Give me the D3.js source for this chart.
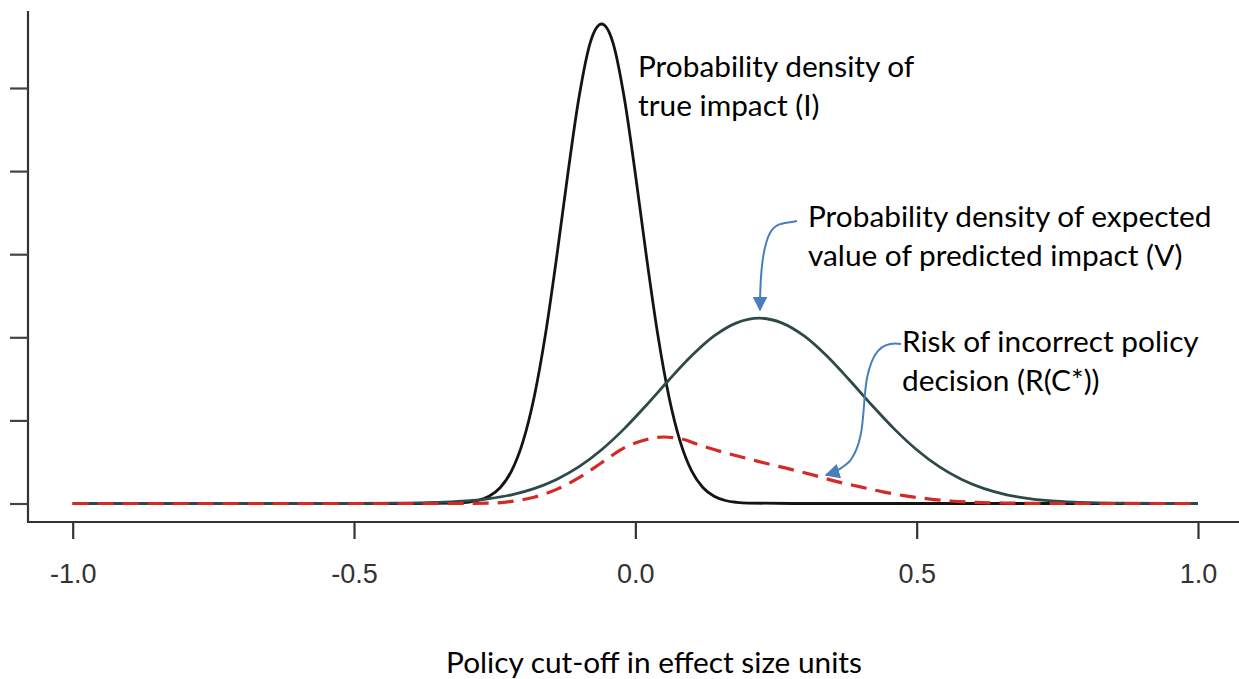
<!DOCTYPE html>
<html>
<head>
<meta charset="utf-8">
<script src="https://cdn.jsdelivr.net/npm/d3@7"></script>
<style>
  body { margin: 0; background: #fff; }
  .tick text { font-family: "Liberation Sans", Arial, sans-serif; font-size: 27px; fill: #333; }
  .note { font-family: Lato, "Open Sans", sans-serif; font-size: 29.8px; fill: #000; }
</style>
</head>
<body>
<div id="chart"></div>
<script>
// values (density units, y ticks 0..5 unlabelled)
var trueImpactX = [-1.0, -0.40, -0.32, -0.30, -0.28, -0.26, -0.24, -0.22, -0.20, -0.18, -0.16, -0.14, -0.12, -0.10, -0.08, -0.06,
  -0.04, -0.02, 0.00, 0.02, 0.04, 0.06, 0.08, 0.10, 0.12, 0.14, 0.16, 0.18, 0.20, 0.28, 1.0];
var trueImpactY = [0, 0, 0.005, 0.014, 0.036, 0.087, 0.193, 0.393, 0.739, 1.276, 2.026, 2.957, 3.967, 4.894, 5.55, 5.77,
  5.55, 4.894, 3.967, 2.957, 2.026, 1.276, 0.739, 0.393, 0.193, 0.087, 0.036, 0.014, 0.005, 0, 0];

var expectedX = [-1.0, -0.50, -0.42, -0.38, -0.34, -0.30, -0.26, -0.22, -0.18, -0.14, -0.10, -0.06, -0.02, 0.02, 0.06, 0.10, 0.14, 0.18,
  0.22, 0.26, 0.30, 0.34, 0.38, 0.42, 0.46, 0.50, 0.54, 0.58, 0.62, 0.66, 0.70, 0.74, 0.78, 0.82, 0.86, 0.94, 1.0];
var expectedY = [0, 0, 0.0035, 0.0076, 0.016, 0.031, 0.059, 0.105, 0.179, 0.289, 0.443, 0.647, 0.898, 1.186, 1.489, 1.777, 2.016, 2.174,
  2.23, 2.174, 2.016, 1.777, 1.489, 1.186, 0.898, 0.647, 0.443, 0.289, 0.179, 0.105, 0.059, 0.031, 0.016, 0.0076, 0.0035, 0, 0];

var riskX = [-1.0, -0.34, -0.30, -0.26, -0.22, -0.18, -0.14, -0.10, -0.06, -0.02, 0.02, 0.05, 0.08, 0.12, 0.16, 0.20, 0.24, 0.28,
  0.32, 0.36, 0.40, 0.44, 0.48, 0.52, 0.56, 0.60, 0.66, 0.72, 0.80, 1.0];
var riskY = [0, 0, 0.001, 0.004, 0.025, 0.075, 0.17, 0.31, 0.49, 0.67, 0.77, 0.80, 0.78, 0.69, 0.61, 0.54, 0.47, 0.405,
  0.335, 0.26, 0.20, 0.14, 0.092, 0.056, 0.03, 0.015, 0.005, 0.001, 0, 0];

var xTicks = [-1.0, -0.5, 0.0, 0.5, 1.0];
var yTicks = [0, 1, 2, 3, 4, 5];

var svgWidth = 1239;
var svgHeight = 679;

var svg = d3.select("#chart")
  .append("svg")
  .attr("width", svgWidth)
  .attr("height", svgHeight)
  .style("background", "#fff");

var x = d3.scaleLinear().domain([-1, 1]).range([72.7, 1198]);
var y = d3.scaleLinear().domain([0, 5]).range([503.5, 88]);

// L shaped frame
svg.append("path")
  .attr("d", "M28,11 L28,522 L1239,522")
  .attr("fill", "none")
  .attr("stroke", "#333")
  .attr("stroke-width", 2.2);

// plain hyphen for negatives, like the original
var fmt = d => d.toFixed(1);

var xAxis = svg.append("g")
  .attr("transform", "translate(0,522)")
  .call(d3.axisBottom(x).tickValues(xTicks).tickSize(17).tickPadding(25).tickFormat(fmt));
xAxis.select(".domain").remove();
xAxis.selectAll(".tick line").attr("stroke", "#333").attr("stroke-width", 2.2);

var yAxis = svg.append("g")
  .attr("transform", "translate(28,0)")
  .call(d3.axisLeft(y).tickValues(yTicks).tickSize(18).tickFormat(""));
yAxis.select(".domain").remove();
yAxis.selectAll(".tick line").attr("stroke", "#444").attr("stroke-width", 2.2);

function series(xs, ys) {
  return xs.map(function(d, i) { return [d, ys[i]]; });
}

var line = d3.line()
  .x(d => x(d[0]))
  .y(d => y(d[1]))
  .curve(d3.curveMonotoneX);

svg.append("path")
  .datum(series(trueImpactX, trueImpactY))
  .attr("d", line)
  .attr("fill", "none")
  .attr("stroke", "#141414")
  .attr("stroke-width", 2.8);

svg.append("path")
  .datum(series(expectedX, expectedY))
  .attr("d", line)
  .attr("fill", "none")
  .attr("stroke", "#2c4b48")
  .attr("stroke-width", 2.8);

svg.append("path")
  .datum(series(riskX, riskY))
  .attr("d", line)
  .attr("fill", "none")
  .attr("stroke", "#d42a26")
  .attr("stroke-width", 3.2)
  .attr("stroke-dasharray", "16,9");

// annotations
var notes = [
  { x: 638, y: 77, lines: ["Probability density of", "true impact (I)"] },
  { x: 808, y: 227, lines: ["Probability density of expected", "value of predicted impact (V)"] },
  { x: 902, y: 352, lines: ["Risk of incorrect policy", "decision (R(C*))"] }
];
notes.forEach(function(n) {
  var t = svg.append("text").attr("class", "note").attr("x", n.x).attr("y", n.y);
  n.lines.forEach(function(s, i) {
    t.append("tspan").attr("x", n.x).attr("dy", i === 0 ? 0 : 38.5).text(s);
  });
});

svg.append("defs").append("marker")
  .attr("id", "head")
  .attr("viewBox", "0 0 10 10")
  .attr("refX", 9)
  .attr("refY", 5)
  .attr("markerWidth", 7.5)
  .attr("markerHeight", 7.5)
  .attr("markerUnits", "strokeWidth")
  .attr("orient", "auto")
  .append("path")
  .attr("d", "M0,0 L10,5 L0,10 Z")
  .attr("fill", "#4a7ebb");

svg.append("path")
  .attr("d", "M797,221 C783,224 776,222 770,233 C763,246 760,272 760,310")
  .attr("fill", "none")
  .attr("stroke", "#4a7ebb")
  .attr("stroke-width", 2)
  .attr("marker-end", "url(#head)");

svg.append("path")
  .attr("d", "M901,344 C880,341 872,354 867,378 C862,405 866,440 850,461 C843,468 836,472 826,475")
  .attr("fill", "none")
  .attr("stroke", "#4a7ebb")
  .attr("stroke-width", 2)
  .attr("marker-end", "url(#head)");

svg.append("text")
  .attr("class", "note")
  .attr("x", 654)
  .attr("y", 673)
  .attr("text-anchor", "middle")
  .text("Policy cut-off in effect size units");
</script>
</body>
</html>
